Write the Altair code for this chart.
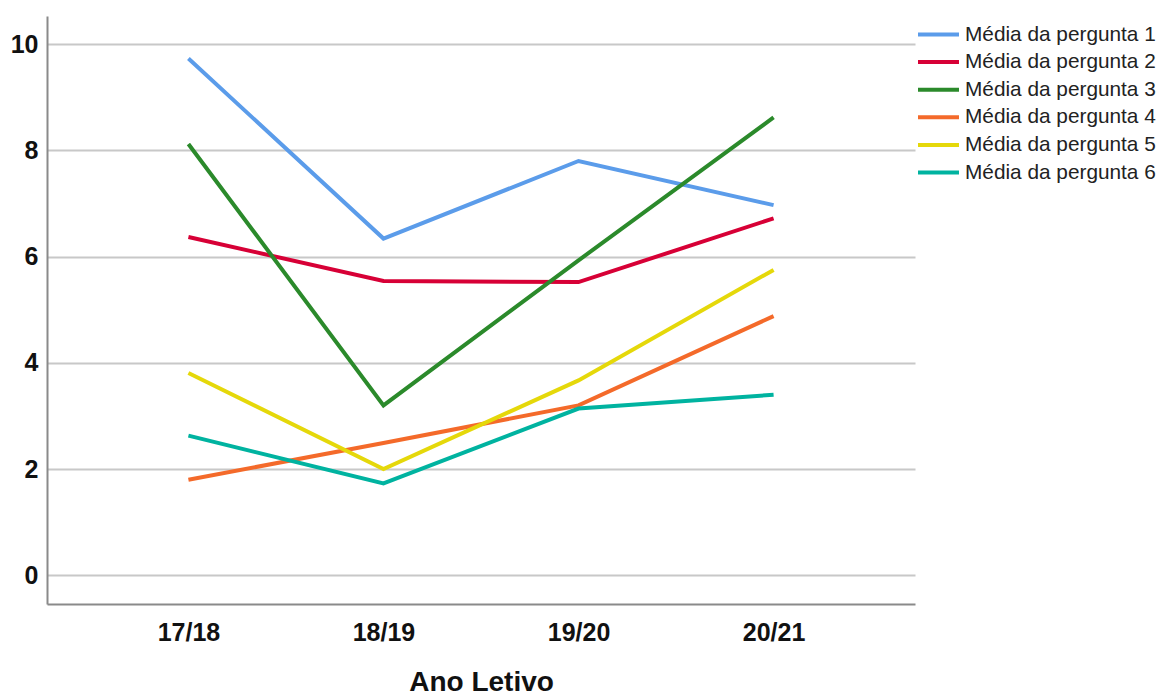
import altair as alt
import pandas as pd

years = ["17/18", "18/19", "19/20", "20/21"]
series_names = [
    "Média da pergunta 1",
    "Média da pergunta 2",
    "Média da pergunta 3",
    "Média da pergunta 4",
    "Média da pergunta 5",
    "Média da pergunta 6",
]
p1 = [9.73, 6.34, 7.80, 6.97]
p2 = [6.37, 5.54, 5.52, 6.72]
p3 = [8.12, 3.20, 5.93, 8.62]
p4 = [1.80, 2.49, 3.20, 4.88]
p5 = [3.81, 2.00, 3.67, 5.75]
p6 = [2.63, 1.73, 3.14, 3.40]
colors = ["#5b9cea", "#d70036", "#2b8a2b", "#f46a2a", "#e5d80a", "#00b3a0"]

rows = []
for name, vals in zip(series_names, [p1, p2, p3, p4, p5, p6]):
    for y, v in zip(years, vals):
        rows.append({"Ano": y, "Valor": v, "Serie": name})
df = pd.DataFrame(rows)

FONT = "Liberation Sans"

chart = alt.Chart(df).mark_line(strokeWidth=4).encode(
    x=alt.X("Ano:N", sort=years,
            scale=alt.Scale(type="point", padding=0.725),
            axis=alt.Axis(title="Ano Letivo", labelAngle=0, ticks=False,
                          labelFont=FONT, labelFontSize=25, labelFontWeight="bold",
                          labelColor="#111", labelPadding=16,
                          domainColor="#8a8a8a", domainWidth=2, grid=False,
                          titleFont=FONT, titleFontSize=28, titleFontWeight="bold",
                          titleColor="#111", titleBaseline="alphabetic", titleY=86)),
    y=alt.Y("Valor:Q",
            scale=alt.Scale(domain=[-0.54, 10.53], nice=False, zero=False),
            axis=alt.Axis(title=None, values=[0, 2, 4, 6, 8, 10], ticks=False,
                          labelFont=FONT, labelFontSize=25, labelFontWeight="bold",
                          labelColor="#111", labelPadding=9,
                          domainColor="#8a8a8a", domainWidth=2,
                          gridColor="#c8c8c8", gridWidth=2)),
    color=alt.Color("Serie:N", sort=series_names,
                    scale=alt.Scale(domain=series_names, range=colors),
                    legend=alt.Legend(title=None, orient="none", legendX=879, legendY=6,
                                      symbolType="M-2,0H2", symbolStrokeWidth=4,
                                      symbolSize=420, labelFont=FONT, labelFontSize=20.8,
                                      labelColor="#222", labelOffset=14, rowPadding=4.6,
                                      labelLimit=400, symbolOpacity=1)),
).properties(
    width=868,
    height=588,
    background="white",
    autosize=alt.AutoSizeParams(type="none"),
    padding={"left": 39, "top": 8, "right": 243, "bottom": 92},
).configure_view(stroke=None)

chart.save("out.html", embed_options={"renderer": "svg", "actions": False})
